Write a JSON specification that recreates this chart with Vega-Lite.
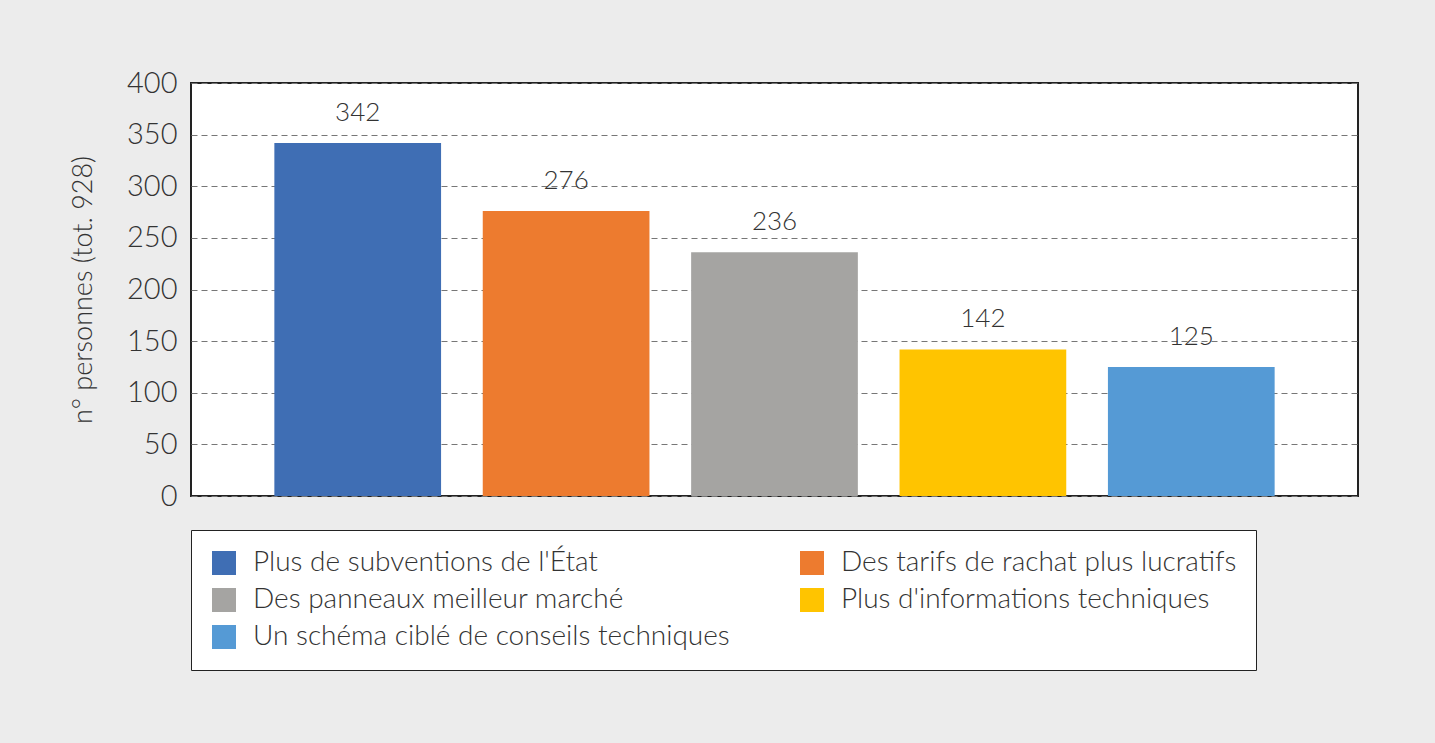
{
  "$schema": "https://vega.github.io/schema/vega-lite/v6.json",
  "autosize": {"type": "none"},
  "padding": {"left": 191, "top": 83, "right": 77, "bottom": 247},
  "width": 1167,
  "height": 413,
  "background": "#ececec",
  "config": {
    "font": "Lato",
    "view": {"fill": "white", "stroke": "#222", "strokeWidth": 2}
  },
  "data": {
    "values": [
      {"mesure": "Plus de subventions de l'État", "personnes": 342},
      {"mesure": "Des tarifs de rachat plus lucratifs", "personnes": 276},
      {"mesure": "Des panneaux meilleur marché", "personnes": 236},
      {"mesure": "Plus d'informations techniques", "personnes": 142},
      {"mesure": "Un schéma ciblé de conseils techniques", "personnes": 125}
    ]
  },
  "encoding": {
    "x": {
      "field": "mesure",
      "type": "nominal",
      "sort": null,
      "axis": null,
      "scale": {"paddingInner": 0.2, "paddingOuter": 0.4}
    },
    "y": {
      "field": "personnes",
      "type": "quantitative",
      "scale": {"domain": [0, 400]},
      "axis": {
        "title": "n° personnes (tot. 928)",
        "titleFontSize": 27,
        "titleFontWeight": 300,
        "titleColor": "#333",
        "titlePadding": 29,
        "values": [0, 50, 100, 150, 200, 250, 300, 350, 400],
        "labelFontSize": 29,
        "labelFontWeight": 300,
        "labelColor": "#333",
        "labelPadding": 14,
        "ticks": false,
        "domain": false,
        "grid": true,
        "gridColor": "#777",
        "gridDash": [6, 4],
        "gridWidth": 1
      }
    }
  },
  "layer": [
    {
      "mark": {"type": "bar"},
      "encoding": {
        "color": {
          "field": "mesure",
          "type": "nominal",
          "scale": {
            "domain": [
              "Plus de subventions de l'État",
              "Des panneaux meilleur marché",
              "Un schéma ciblé de conseils techniques",
              "Des tarifs de rachat plus lucratifs",
              "Plus d'informations techniques"
            ],
            "range": ["#3f6eb4", "#a5a4a2", "#559ad5", "#ed7b2f", "#ffc400"]
          },
          "legend": {
            "title": null,
            "orient": "none",
            "legendX": 0,
            "legendY": 447,
            "columns": 2,
            "columnPadding": 68,
            "rowPadding": 9,
            "padding": 19,
            "strokeColor": "#222",
            "fillColor": "white",
            "symbolType": "square",
            "symbolSize": 576,
            "symbolStrokeWidth": 0,
            "labelFontSize": 28,
            "labelFontWeight": 300,
            "labelColor": "#333",
            "labelOffset": 15,
            "labelLimit": 700
          }
        }
      }
    },
    {
      "mark": {"type": "text", "baseline": "middle", "dy": -30, "fontSize": 26, "fontWeight": 300, "color": "#333"},
      "encoding": {
        "text": {"field": "personnes", "type": "quantitative"}
      }
    }
  ]
}
